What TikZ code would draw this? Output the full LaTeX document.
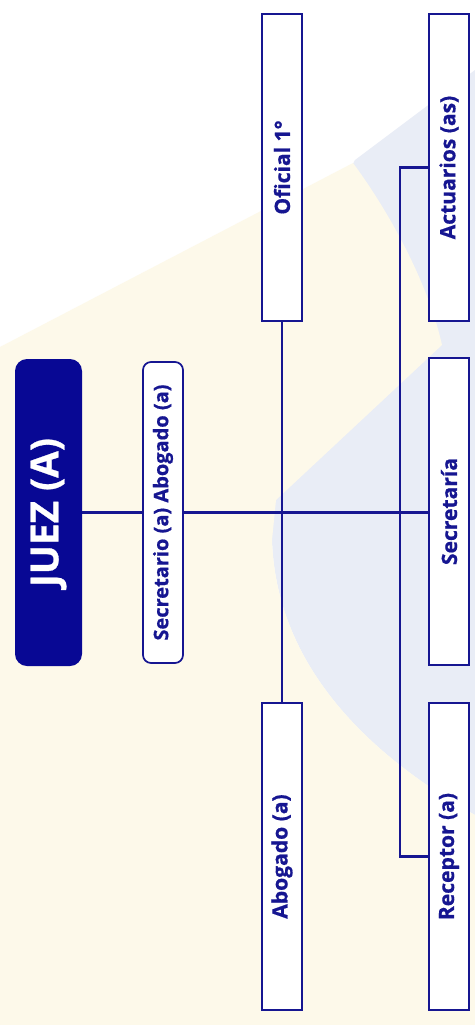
\documentclass[tikz,border=0pt]{standalone}
\usepackage{fontspec}
\setmainfont{Open Sans}[BoldFeatures={FakeBold=0.7}]
\usepackage{graphicx}
\definecolor{navy}{RGB}{22,22,145}
\definecolor{juezblue}{RGB}{8,8,148}
\definecolor{cream}{RGB}{253,249,234}
\definecolor{paleblue}{RGB}{233,237,246}
\pgfdeclarelayer{bg}
\pgfdeclarelayer{lines}
\pgfsetlayers{bg,lines,main}
\tikzset{
  box/.style={draw=navy, line width=1.7pt, fill=white, minimum width=30pt,
    minimum height=230.25pt, inner sep=0pt, text=navy,
    font=\bfseries\fontsize{15.8}{18}\selectfont},
  juezbox/.style={fill=juezblue, rounded corners=9pt, minimum width=50.25pt,
    minimum height=230.25pt, inner sep=0pt, text=white,
    font=\bfseries\fontsize{29}{32}\selectfont},
  secbox/.style={draw=navy, line width=1.3pt, fill=white, rounded corners=6pt,
    minimum width=30pt, minimum height=225.75pt, inner sep=0pt, text=navy,
    font=\bfseries\fontsize{15}{17}\selectfont},
  conn/.style={draw=navy, line width=1.6pt}
}
\begin{document}
\begin{tikzpicture}[x=0.75pt, y=-0.75pt]
\useasboundingbox (0,0) rectangle (475,1025);
\begin{pgfonlayer}{bg}
  \fill[white] (0,0) rectangle (475,1025);
  \fill[paleblue] (475,70) -- (355,160) .. controls (300,260) and (268,420) .. (272,540)
     .. controls (276,660) and (360,750) .. (475,815) -- cycle;
  \fill[cream] (0,347) -- (353,163) .. controls (395,220) and (430,290) .. (442,345)
     -- (276,500) -- (272,540) .. controls (276,660) and (360,750) .. (475,815)
     -- (475,1025) -- (0,1025) -- cycle;
\end{pgfonlayer}

\node[juezbox] (juez) at (48.5,512.5) {\rotatebox{90}{JUEZ (A)}};
\node[secbox] (secab) at (163,512.5) {\rotatebox{90}{Secretario (a) Abogado (a)}};
\node[box] (oficial) at (282,167.5) {\rotatebox{90}{Oficial 1°}};
\node[box] (abogado) at (282,856.5) {\rotatebox{90}{Abogado (a)}};
\node[box] (actuarios) at (449,167.5) {\rotatebox{90}{Actuarios (as)}};
\node[box] (secretaria) at (449,511.5) {\rotatebox{90}{Secretaría}};
\node[box] (receptor) at (449,856.5) {\rotatebox{90}{Receptor (a)}};

\begin{pgfonlayer}{lines}
  \draw[conn] (juez.east) -- (juez.east -| secretaria.west);
  \draw[conn] (oficial.south) -- (abogado.north);
  \draw[conn] (actuarios.west) -- ++(-28,0) coordinate (spine) |- (receptor.west);
\end{pgfonlayer}
\end{tikzpicture}
\end{document}
